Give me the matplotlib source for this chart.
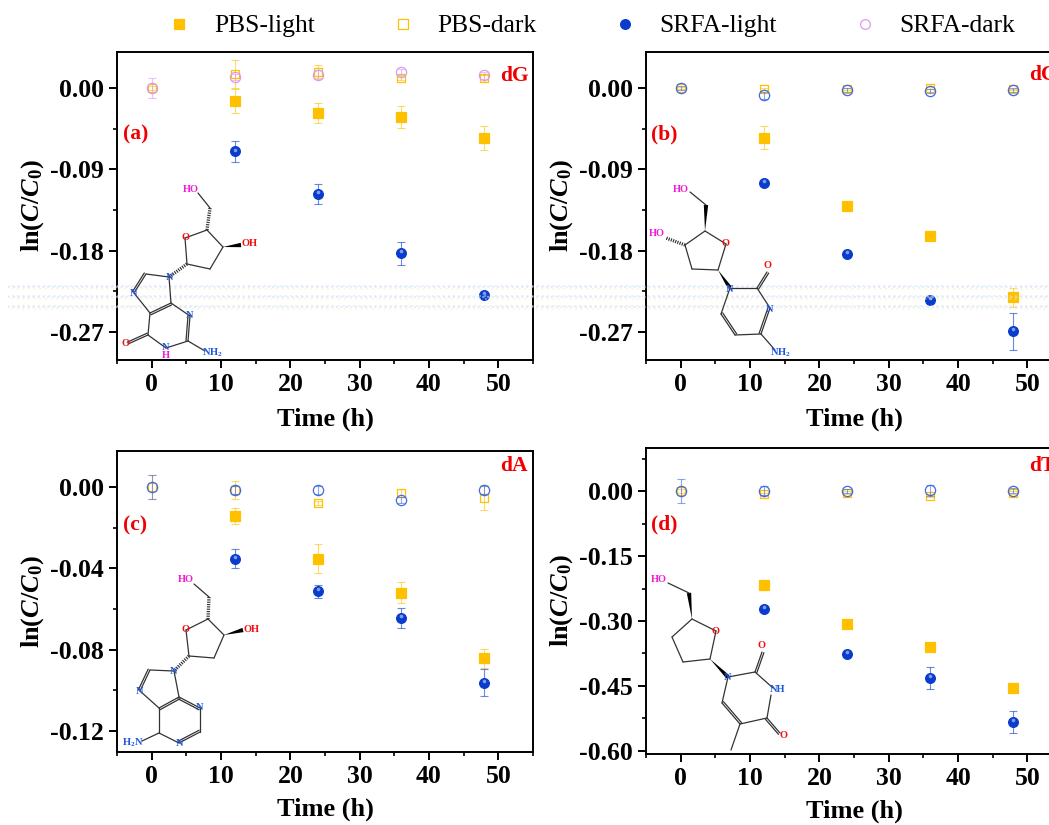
import matplotlib
matplotlib.use("Agg")
import matplotlib.pyplot as plt
from matplotlib.lines import Line2D
from matplotlib.patches import Polygon
from matplotlib.ticker import MultipleLocator, FormatStrFormatter
from matplotlib.transforms import offset_copy

plt.rcParams['font.family'] = ['Liberation Serif', 'DejaVu Serif']
plt.rcParams['mathtext.fontset'] = 'custom'
plt.rcParams['mathtext.rm'] = 'Liberation Serif:bold'
plt.rcParams['mathtext.it'] = 'Liberation Serif:italic:bold'
plt.rcParams['mathtext.bf'] = 'Liberation Serif:bold'

W, H = 1049, 825

# time points
t_all = [0, 12, 24, 36, 48]
t_light = [12, 24, 36, 48]

# (a) dG
a_pbs_light = [-0.0144, -0.0277, -0.0318, -0.0547]
a_pbs_light_err = [0.0129, 0.0114, 0.0120, 0.0133]
a_pbs_dark = [0.0, 0.0158, 0.0184, 0.0110, 0.0110]
a_pbs_dark_err = [0.002, 0.0155, 0.0070, 0.002, 0.004]
a_srfa_light = [-0.0701, -0.1170, -0.1830, -0.2288]
a_srfa_light_err = [0.0120, 0.0113, 0.0124, 0.0020]
a_srfa_dark = [0.0, 0.0125, 0.0150, 0.0177, 0.0140]
a_srfa_dark_err = [0.0110, 0.0030, 0.0050, 0.0030, 0.0040]

# (b) dC
b_pbs_light = [-0.0547, -0.1303, -0.1642, -0.2317]
b_pbs_light_err = [0.0127, 0.0010, 0.0010, 0.0107]
b_pbs_dark = [0.0, -0.0010, -0.0010, 0.0, -0.0015]
b_pbs_dark_err = [0.001, 0.001, 0.001, 0.001, 0.001]
b_srfa_light = [-0.1052, -0.1837, -0.2343, -0.2693]
b_srfa_light_err = [0.0010, 0.0010, 0.0010, 0.0203]
b_srfa_dark = [0.0, -0.0081, -0.0020, -0.0030, -0.0020]
b_srfa_dark_err = [0.002, 0.004, 0.002, 0.002, 0.002]

# (c) dA
c_pbs_light = [-0.0143, -0.0352, -0.0520, -0.0843]
c_pbs_light_err = [0.0039, 0.0073, 0.0052, 0.0045]
c_pbs_dark = [0.0, -0.0015, -0.0079, -0.0028, -0.0052]
c_pbs_dark_err = [0.0060, 0.0045, 0.0010, 0.0020, 0.0060]
c_srfa_light = [-0.0352, -0.0513, -0.0643, -0.0962]
c_srfa_light_err = [0.0048, 0.0032, 0.0048, 0.0066]
c_srfa_dark = [0.0, -0.0015, -0.0013, -0.0064, -0.0016]
c_srfa_dark_err = [0.0059, 0.0020, 0.0020, 0.0015, 0.0020]

# (d) dT
d_pbs_light = [-0.2180, -0.3070, -0.3610, -0.4555]
d_pbs_light_err = [0.003, 0.003, 0.003, 0.003]
d_pbs_dark = [0.0, -0.0070, -0.0040, -0.0110, -0.0040]
d_pbs_dark_err = [0.005, 0.003, 0.003, 0.003, 0.003]
d_srfa_light = [-0.2714, -0.3759, -0.4323, -0.5329]
d_srfa_light_err = [0.003, 0.003, 0.0255, 0.0255]
d_srfa_dark = [0.0, 0.0008, 0.0, 0.0015, 0.0010]
d_srfa_dark_err = [0.0280, 0.0100, 0.0040, 0.0120, 0.0050]

ORANGE = '#FFC000'
BLUE = '#0A3CCB'
OPEN_BLUE = '#3F6BE6'
VIOLET = '#D79CF0'

fig = plt.figure(figsize=(W / 100, H / 100), dpi=100, facecolor='white')


def make_axes(left, right, top, bottom):
    return fig.add_axes([left / W, 1 - bottom / H, (right - left) / W, (bottom - top) / H])


def series(ax, x, y, err, color, marker, filled, ms):
    ax.errorbar(x, y, yerr=err, fmt='none', ecolor=color, elinewidth=0.8, capsize=3,
                capthick=0.8, alpha=0.6, clip_on=False)
    ax.plot(x, y, ls='none', marker=marker, ms=ms, mew=0.9, mec=color,
            mfc=color if filled else 'none')
    if marker == 'o' and filled:
        # small highlight on the ball markers, a bit above centre
        shifted = offset_copy(ax.transData, fig=fig, x=0, y=1.4, units='points')
        ax.plot(x, y, ls='none', marker='o', ms=2.6, mew=0, mfc='#7F9CF0', transform=shifted)


def panel(ax, pl, ple, pd, pde, sl, sle, sd, sde, dark_color, ylim, major, pad):
    series(ax, t_light, pl, ple, ORANGE, 's', True, 6.7)
    series(ax, t_all, pd, pde, ORANGE, 's', False, 6)
    series(ax, t_light, sl, sle, BLUE, 'o', True, 7)
    series(ax, t_all, sd, sde, dark_color, 'o', False, 7.4)
    ax.set_xlim(-5, 55)
    ax.set_ylim(*ylim)
    ax.xaxis.set_major_locator(MultipleLocator(10))
    ax.xaxis.set_minor_locator(MultipleLocator(5))
    ax.yaxis.set_major_locator(MultipleLocator(major))
    ax.yaxis.set_minor_locator(MultipleLocator(major / 2))
    ax.yaxis.set_major_formatter(FormatStrFormatter('%.2f'))
    ax.tick_params(which='major', length=5.5, width=1.4, pad=4)
    ax.tick_params(which='minor', length=3, width=1.2)
    for s in ax.spines.values():
        s.set_linewidth(1.4)
    for lab in ax.get_xticklabels() + ax.get_yticklabels():
        lab.set_fontsize(18.5)
        lab.set_fontweight('bold')
    ax.set_xlabel('Time (h)', fontsize=19, fontweight='bold', labelpad=pad)
    ax.set_ylabel(r'$\mathrm{ln(}\mathit{C/C}_{\mathrm{0}}\mathrm{)}$', fontsize=19)
    ax.yaxis.set_label_coords(-0.17, 0.5)


ax_a = make_axes(117, 533, 52, 360)
ax_b = make_axes(646, 1062, 52, 360)
ax_c = make_axes(117, 533, 451, 752)
ax_d = make_axes(646, 1062, 448, 754)

panel(ax_a, a_pbs_light, a_pbs_light_err, a_pbs_dark, a_pbs_dark_err, a_srfa_light,
      a_srfa_light_err, a_srfa_dark, a_srfa_dark_err, VIOLET, (-0.301, 0.040), 0.09, 8)
panel(ax_b, b_pbs_light, b_pbs_light_err, b_pbs_dark, b_pbs_dark_err, b_srfa_light,
      b_srfa_light_err, b_srfa_dark, b_srfa_dark_err, OPEN_BLUE, (-0.301, 0.040), 0.09, 8)
panel(ax_c, c_pbs_light, c_pbs_light_err, c_pbs_dark, c_pbs_dark_err, c_srfa_light,
      c_srfa_light_err, c_srfa_dark, c_srfa_dark_err, OPEN_BLUE, (-0.1303, 0.0177), 0.04, 6.5)
panel(ax_d, d_pbs_light, d_pbs_light_err, d_pbs_dark, d_pbs_dark_err, d_srfa_light,
      d_srfa_light_err, d_srfa_dark, d_srfa_dark_err, OPEN_BLUE, (-0.607, 0.0993), 0.15, 6.5)

# overlay in reference pixels, for the structures and the panel tags
ov = fig.add_axes([0, 0, 1, 1], facecolor='none')
ov.set_xlim(0, W)
ov.set_ylim(H, 0)
ov.axis('off')

# speckled band that runs across the picture
for yb in (287, 297, 307):
    ov.plot([8, W], [yb, yb], color='#BFEFF5', lw=1.6, ls=(0, (1.0, 1.2)), alpha=0.55)
    ov.plot([8, W], [yb - 1.5, yb - 1.5], color='#F6CFEF', lw=1.4, ls=(0.7, (1.0, 1.7)), alpha=0.5)
    ov.plot([8, W], [yb + 1.5, yb + 1.5], color='#F7EFB5', lw=1.4, ls=(1.2, (0.8, 2.1)), alpha=0.5)


def tag(x, y, s):
    ov.text(x, y, s, color='#F00000', fontsize=15.5, fontweight='bold', ha='left', va='center')


tag(123, 134, '(a)')
tag(500, 76, 'dG')
tag(651, 134, '(b)')
tag(1029, 75, 'dC')
tag(123, 525, '(c)')
tag(500, 466, 'dA')
tag(651, 524, '(d)')
tag(1029, 466, 'dT')


def bonds(pts, color='#333333', lw=0.9):
    for p, q in pts:
        ov.plot([p[0], q[0]], [p[1], q[1]], color=color, lw=lw, solid_capstyle='round')


def double(p, q, off=2.0):
    dx, dy = q[0] - p[0], q[1] - p[1]
    n = (dx ** 2 + dy ** 2) ** 0.5
    ox, oy = -dy / n * off, dx / n * off
    bonds([(p, q), ((p[0] + ox, p[1] + oy), (q[0] + ox, q[1] + oy))])


def wedge(p, q, w=2.2):
    dx, dy = q[0] - p[0], q[1] - p[1]
    n = (dx ** 2 + dy ** 2) ** 0.5
    ox, oy = -dy / n * w, dx / n * w
    ov.add_patch(Polygon([p, (q[0] + ox, q[1] + oy), (q[0] - ox, q[1] - oy)], color='black', lw=0))


def hashed(p, q):
    ov.plot([p[0], q[0]], [p[1], q[1]], color='#333333', lw=2.4, ls=(0, (0.35, 0.35)))


def atom(x, y, s, color):
    ov.text(x, y, s, color=color, fontsize=7.5, fontweight='bold', ha='center', va='center')


RED, NBLUE, PINK = '#F01010', '#1F55E0', '#F020D0'

# dG structure
bonds([((198, 193), (210, 208)), ((207, 230), (185, 238)), ((185, 238), (187, 264)),
       ((187, 264), (210, 269)), ((210, 269), (223, 247)), ((223, 247), (207, 230)),
       ((169, 277), (146, 274)), ((134, 293), (150, 313)), ((171, 303), (169, 277)),
       ((171, 303), (190, 316)), ((188, 341), (166, 348)), ((166, 348), (148, 335)),
       ((148, 335), (150, 313)), ((188, 341), (205, 351))])
double((146, 274), (134, 293))
double((150, 313), (171, 303))
double((190, 316), (188, 341))
double((148, 335), (128, 344))
hashed((210, 208), (207, 230))
wedge((223, 247), (241, 245))
hashed((187, 264), (169, 277))
for x, y, s, c in [(191, 189, 'HO', PINK), (250, 244, 'OH', RED), (185, 238, 'O', RED),
                   (169, 277, 'N', NBLUE), (134, 293, 'N', NBLUE), (190, 316, 'N', NBLUE),
                   (166, 347, 'N', NBLUE), (166, 356, 'H', PINK), (126, 344, 'O', RED),
                   (213, 353, 'NH$_2$', NBLUE)]:
    atom(x, y, s, c)

# dC structure
bonds([((690, 192), (706, 205)), ((705, 231), (726, 244)), ((726, 244), (718, 270)),
       ((718, 270), (692, 269)), ((692, 269), (685, 245)), ((685, 245), (705, 231)),
       ((730, 288), (757, 288)), ((757, 288), (770, 308)), ((761, 334), (735, 335)),
       ((721, 314), (730, 288)), ((761, 334), (775, 350))])
double((757, 288), (767, 272))
double((770, 308), (761, 334))
double((735, 335), (721, 314))
wedge((705, 231), (706, 205))
wedge((718, 270), (730, 288))
hashed((685, 245), (666, 238))
for x, y, s, c in [(681, 189, 'HO', PINK), (657, 234, 'HO', PINK), (726, 244, 'O', RED),
                   (730, 289, 'N', NBLUE), (768, 265, 'O', RED), (770, 309, 'N', NBLUE),
                   (781, 353, 'NH$_2$', NBLUE)]:
    atom(x, y, s, c)

# dA structure
bonds([((194, 584), (209, 597)), ((208, 619), (186, 630)), ((186, 630), (189, 656)),
       ((189, 656), (214, 658)), ((214, 658), (224, 635)), ((224, 635), (208, 619)),
       ((174, 671), (150, 670)), ((140, 691), (159, 708)), ((179, 697), (174, 671)),
       ((159, 708), (159, 733)), ((200, 708), (200, 732)), ((179, 743), (159, 733)),
       ((159, 733), (142, 741))])
double((150, 670), (140, 691))
double((159, 708), (179, 697))
double((179, 697), (200, 708))
double((200, 732), (179, 743))
hashed((209, 597), (208, 619))
wedge((224, 635), (243, 630))
hashed((189, 656), (174, 671))
for x, y, s, c in [(186, 579, 'HO', PINK), (251, 629, 'OH', RED), (186, 630, 'O', RED),
                   (174, 671, 'N', NBLUE), (140, 691, 'N', NBLUE), (200, 708, 'N', NBLUE),
                   (179, 743, 'N', NBLUE), (133, 743, 'H$_2$N', NBLUE)]:
    atom(x, y, s, c)

# dT structure
bonds([((668, 583), (689, 593)), ((692, 619), (716, 631)), ((716, 631), (710, 659)),
       ((710, 659), (683, 662)), ((683, 662), (672, 637)), ((672, 637), (692, 619)),
       ((728, 677), (755, 672)), ((755, 672), (773, 688)), ((771, 695), (767, 718)),
       ((767, 718), (740, 724)), ((722, 703), (728, 677)), ((740, 724), (731, 750))])
double((755, 672), (762, 652))
double((767, 718), (780, 733))
double((740, 724), (722, 703))
wedge((692, 619), (689, 593))
wedge((710, 659), (728, 677))
for x, y, s, c in [(659, 580, 'HO', PINK), (716, 631, 'O', RED), (762, 645, 'O', RED),
                   (728, 677, 'N', NBLUE), (778, 690, 'NH', NBLUE), (783, 736, 'O', RED)]:
    atom(x, y, s, c)

# legend across the top
handles = [
    Line2D([], [], ls='none', marker='s', ms=6.5, mew=0.9, color=ORANGE),
    Line2D([], [], ls='none', marker='s', ms=6.5, mew=0.9, mec=ORANGE, mfc='none'),
    Line2D([], [], ls='none', marker='o', ms=7, mew=0.9, color=BLUE),
    Line2D([], [], ls='none', marker='o', ms=7, mew=0.9, mec=VIOLET, mfc='none'),
]
labels = ['PBS-light', 'PBS-dark', 'SRFA-light', 'SRFA-dark']
fig.legend(handles, labels, ncol=4, loc='center', bbox_to_anchor=(587 / W, 1 - 26 / H),
           frameon=False, fontsize=18.4, handletextpad=0.55, columnspacing=2.65, handlelength=1.6)

fig.savefig('out.png', dpi=100)
